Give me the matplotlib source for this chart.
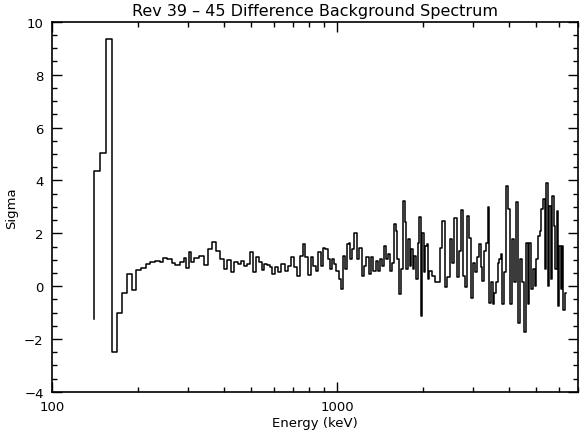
import numpy as np
import matplotlib
matplotlib.use("Agg")
import matplotlib.pyplot as plt
from matplotlib.ticker import FixedLocator, NullFormatter, FixedFormatter, MultipleLocator

# bin edges in keV
edges = [140, 147, 154.5, 162, 169, 176, 183, 190, 197, 205, 213, 220, 229, 239,
         246, 254, 263, 271, 280, 290, 296, 302, 308, 316,
         328, 340, 352, 364, 376, 388, 400, 412, 424, 436, 448, 460, 472, 484,
         496, 508, 520, 532, 544, 556, 568, 580, 592, 604,
         621, 638, 655, 672, 689, 706, 723, 740, 757, 774, 791, 808, 825, 842,
         859, 876, 893, 910, 927, 944, 961, 978, 995, 1012, 1029, 1046, 1063,
         1080, 1097, 1114, 1131, 1148,
         1172, 1196, 1220, 1244, 1268, 1292, 1316, 1340, 1364, 1388, 1412, 1436,
         1460, 1484, 1508, 1532, 1556, 1580, 1604, 1628, 1652, 1676, 1700, 1724,
         1748, 1772, 1796, 1820, 1844, 1868, 1892, 1916, 1940, 1964, 1988, 2012,
         2036, 2060, 2084, 2108,
         2155, 2202, 2249, 2296, 2343, 2390, 2437, 2484, 2531, 2578, 2625, 2672,
         2719, 2766, 2813, 2860, 2907, 2954, 3001, 3048, 3095, 3142, 3189, 3236,
         3283, 3330, 3377, 3424, 3471, 3518, 3565, 3612, 3659, 3706, 3753, 3800,
         3847,
         3915, 3983, 4051, 4119, 4187, 4255, 4323, 4391, 4459, 4527, 4595, 4663,
         4731, 4799, 4867, 4935, 5003, 5071, 5139, 5207, 5275, 5343, 5411, 5479,
         5547, 5615, 5683, 5751, 5819, 5887, 5955, 6023, 6091, 6159, 6227, 6295,
         6363]

# difference significance per bin
sigma = [4.35, 5.05, 9.35, -2.5, -1.02, -0.25, 0.45, -0.14, 0.62, 0.68, 0.83,
         0.92, 0.95, 0.9, 1.08, 1.02, 0.88, 0.8, 0.92, 1.05, 0.7, 1.3, 0.9,
         1.05, 1.13, 0.79, 1.4, 1.68, 1.34, 1.02, 0.64, 1.0, 0.54, 0.9, 0.83,
         0.96, 0.77, 0.83, 1.3, 0.54, 1.1, 0.9, 0.62, 0.83, 0.79, 0.72, 0.45,
         0.71, 0.54, 0.83, 0.58, 0.77, 1.09, 0.71, 0.39, 1.15, 1.59, 1.09, 0.42,
         1.09, 0.77, 0.58, 1.28, 0.77, 1.43, 1.4, 1.02, 0.64, 1.02, 0.83, 0.58,
         0.27, -0.11, 1.15, 0.64, 1.59, 1.65, 1.02, 1.4,
         2.03, 1.02, 1.46, 0.39, 0.77, 1.09, 0.46, 1.09, 0.58, 0.96, 0.58, 1.02,
         0.77, 1.53, 1.02, 1.21, 0.58, 0.89, 2.35, 2.1, 1.02, -0.3, 0.64, 3.23,
         2.42, 0.64, 1.78, 0.77, 1.4, 0.64, 1.15, 0.27, 1.65, 2.6, -1.12, 2.03,
         0.52, 1.53, 1.59, 0.27,
         0.58, 0.39, 0.14, 0.14, 1.46, 2.47, -0.05, 0.33, 1.78, 0.89, 2.56, 0.33,
         1.34, 2.89, 0.39, -0.05, 2.66, 1.84, -0.43, 0.89, 0.52, 1.09, 1.59,
         0.71, 0.2, 1.34, 1.65, 2.99, -0.62, 0.14, -0.68, -0.24, 0.14, 0.89,
         1.02, 1.21, -0.68,
         0.52, 3.8, 2.92, -0.68, 1.78, 0.14, 3.17, -1.38, 1.02, 0.14, -1.74,
         1.65, -0.68, 1.65, -0.11, 0.64, 0.02, 1.02, 1.9, 2.1, 2.92, 3.29, 0.64,
         3.92, 0.02, 3.04, 0.27, 3.42, 2.29, 0.64, 2.85, -0.74, 1.53, -0.11,
         1.53, -0.92, -0.24]
start_sigma = -1.25

xticks = [100, 1000]
xtick_labels = ["100", "1000"]
xminor = [200, 300, 400, 500, 600, 700, 800, 900, 2000, 3000, 4000, 5000, 6000, 7000]

fig = plt.figure(figsize=(5.85, 4.39), dpi=100)
ax = fig.add_axes([0.089, 0.105, 0.899, 0.843])

x = [edges[0]] + edges
y = [start_sigma] + sigma + [sigma[-1]]
ax.step(x, y, where='post', color='black', lw=1.1)

ax.set_xscale('log')
ax.set_xlim(100, 7000)
ax.set_ylim(-4, 10)

ax.xaxis.set_major_locator(FixedLocator(xticks))
ax.xaxis.set_major_formatter(FixedFormatter(xtick_labels))
ax.xaxis.set_minor_locator(FixedLocator(xminor))
ax.xaxis.set_minor_formatter(NullFormatter())
ax.yaxis.set_major_locator(MultipleLocator(2))
ax.yaxis.set_minor_locator(MultipleLocator(0.5))
ax.yaxis.set_major_formatter(plt.FuncFormatter(lambda v, p: f"{v:.0f}".replace("-", "\u2212")))

ax.tick_params(which='both', direction='in', top=True, right=True, width=1.0,
               labelsize=9.5, colors='black')
ax.tick_params(which='major', length=7, pad=6)
ax.tick_params(which='minor', length=3.5)
for s in ax.spines.values():
    s.set_linewidth(1.2)

ax.set_title("Rev 39 \u2013 45 Difference Background Spectrum", fontsize=11.5, pad=5)
ax.set_xlabel("Energy (keV)", fontsize=9.5, labelpad=2)
ax.set_ylabel("Sigma", fontsize=9.5, labelpad=4)

fig.savefig("out.png", dpi=100)
